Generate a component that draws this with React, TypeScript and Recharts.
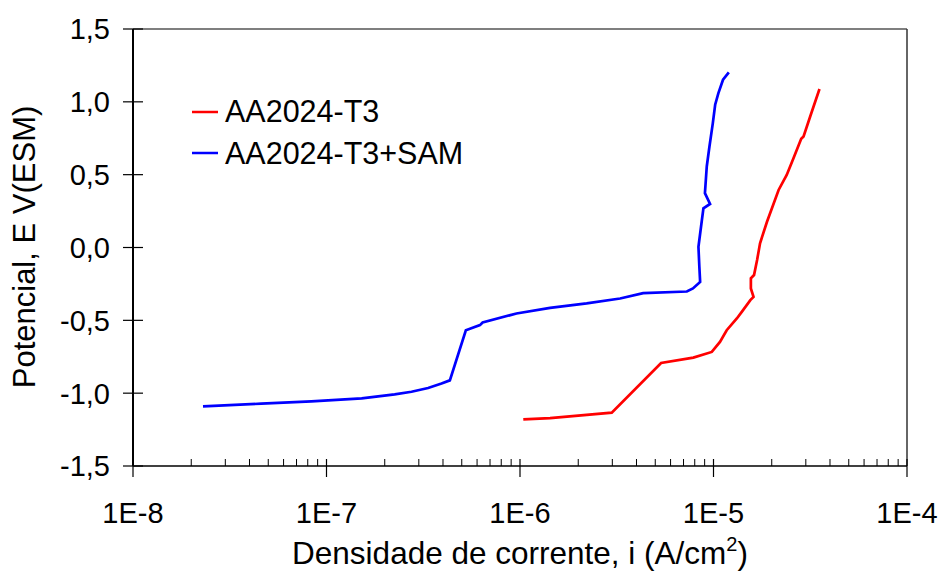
import React from 'react';
import { LineChart, Line, XAxis, YAxis, ReferenceLine, Label } from 'recharts';

const blueI = [2.3e-8, 4.6e-8, 8.35e-8, 1.52e-7, 2.25e-7, 2.75e-7, 3.35e-7, 3.93e-7, 4.34e-7, 5.25e-7, 6.21e-7, 6.41e-7, 9.59e-7, 1.43e-6, 2.21e-6, 3.29e-6, 4.33e-6, 7.28e-6, 7.83e-6, 8.53e-6, 8.45e-6, 8.36e-6, 8.71e-6, 8.87e-6, 9.6e-6, 9.03e-6, 9.23e-6, 9.53e-6, 9.92e-6, 1.02e-5, 1.06e-5, 1.12e-5, 1.2e-5];
const blueE = [-1.091, -1.072, -1.056, -1.036, -1.008, -0.99, -0.965, -0.934, -0.912, -0.568, -0.533, -0.515, -0.453, -0.414, -0.384, -0.35, -0.313, -0.302, -0.281, -0.236, -0.132, 0.005, 0.189, 0.269, 0.299, 0.373, 0.556, 0.693, 0.854, 0.98, 1.06, 1.152, 1.202];

const redI = [1.04e-6, 1.43e-6, 2.98e-6, 5.36e-6, 7.87e-6, 9.8e-6, 1.08e-5, 1.17e-5, 1.32e-5, 1.4e-5, 1.55e-5, 1.61e-5, 1.56e-5, 1.56e-5, 1.62e-5, 1.68e-5, 1.74e-5, 1.89e-5, 2.17e-5, 2.39e-5, 2.59e-5, 2.84e-5, 2.92e-5, 3.16e-5, 3.53e-5];
const redE = [-1.18, -1.171, -1.134, -0.793, -0.756, -0.717, -0.648, -0.568, -0.487, -0.442, -0.361, -0.339, -0.281, -0.212, -0.189, -0.086, 0.029, 0.177, 0.395, 0.498, 0.613, 0.746, 0.762, 0.899, 1.088];

const xMajorTicks = [1e-8, 1e-7, 1e-6, 1e-5, 1e-4];
const xMinorMultipliers = [2, 3, 4, 5, 6, 7, 8, 9];
const yTicks = [-1.5, -1.0, -0.5, 0.0, 0.5, 1.0, 1.5];
const seriesNames = ['AA2024-T3', 'AA2024-T3+SAM'];
const seriesColors = ['#FF0000', '#0000FF'];

const xTicks: number[] = [];
xMajorTicks.forEach((t, idx) => {
  xTicks.push(t);
  if (idx < xMajorTicks.length - 1) xMinorMultipliers.forEach((m) => xTicks.push(t * m));
});
xTicks.sort((a, b) => a - b);

const redData = redI.map((v, k) => ({ i: v, E: redE[k] }));
const blueData = blueI.map((v, k) => ({ i: v, E: blueE[k] }));

const FONT = '"Liberation Sans", Arial, sans-serif';

const XTick = (props: any) => {
  const { x, y, payload } = props;
  const lg = Math.log10(payload.value);
  const major = Math.abs(lg - Math.round(lg)) < 1e-6;
  if (!major) {
    return <line x1={x} x2={x} y1={y - 7} y2={y} stroke="#000" strokeWidth={1} />;
  }
  return (
    <g>
      <line x1={x} x2={x} y1={y - 7} y2={y + 11} stroke="#000" strokeWidth={1.2} />
      <text x={x} y={y + 57} textAnchor="middle" fontSize={29} fontFamily={FONT} fill="#000">
        {`1E${Math.round(lg)}`}
      </text>
    </g>
  );
};

const YTick = (props: any) => {
  const { x, y, payload } = props;
  const label = Number(payload.value).toFixed(1).replace('.', ',');
  return (
    <g>
      <line x1={x - 10} x2={x + 10} y1={y} y2={y} stroke="#000" strokeWidth={1.2} />
      <text x={x - 23} y={y} dy="0.36em" textAnchor="end" fontSize={29} fontFamily={FONT} fill="#000">
        {label}
      </text>
    </g>
  );
};

const LegendBox = () => (
  <div style={{ position: 'absolute', left: 192, top: 91, fontFamily: FONT, fontSize: 30.5, color: '#000' }}>
    {seriesNames.map((n, k) => (
      <div key={n} style={{ display: 'flex', alignItems: 'center', height: 41.6, whiteSpace: 'nowrap' }}>
        <svg width={26} height={4} style={{ marginRight: 7 }}>
          <line x1={0} x2={26} y1={2} y2={2} stroke={seriesColors[k]} strokeWidth={2.5} />
        </svg>
        <span>{n}</span>
      </div>
    ))}
  </div>
);

export default function App() {
  return (
    <div style={{ position: 'absolute', left: 0, top: 0, width: 941, height: 581, background: '#fff' }}>
      <LineChart width={941} height={581} margin={{ top: 29, right: 34, left: 0, bottom: 0 }}>
        <XAxis
          dataKey="i"
          type="number"
          scale="log"
          domain={[1e-8, 1e-4]}
          allowDataOverflow
          ticks={xTicks}
          interval={0}
          tickSize={0}
          tickMargin={0}
          tickLine={false}
          tick={<XTick />}
          height={115}
          axisLine={{ stroke: '#000', strokeWidth: 1.5 }}
        >
          <Label
            content={() => (
              <text x={520} y={564} textAnchor="middle" fontSize={31.5} fontFamily={FONT} fill="#000">
                Densidade de corrente, i (A/cm
                <tspan dy={-13} fontSize={20}>2</tspan>
                <tspan dy={13}>)</tspan>
              </text>
            )}
          />
        </XAxis>
        <YAxis
          type="number"
          domain={[-1.5, 1.5]}
          ticks={yTicks}
          interval={0}
          tickSize={0}
          tickMargin={0}
          tickLine={false}
          tick={<YTick />}
          width={133}
          axisLine={{ stroke: '#000', strokeWidth: 2 }}
        >
          <Label
            content={() => (
              <text x={35} y={247} transform="rotate(-90 35 247)" textAnchor="middle" fontSize={31} fontFamily={FONT} fill="#000">
                Potencial, E V(ESM)
              </text>
            )}
          />
        </YAxis>
        <ReferenceLine y={1.5} stroke="#000" strokeWidth={1.2} />
        <ReferenceLine x={1e-4} stroke="#333" strokeWidth={1.5} />
        <Line data={redData} dataKey="E" name={seriesNames[0]} stroke={seriesColors[0]} strokeWidth={2.7} dot={false} isAnimationActive={false} />
        <Line data={blueData} dataKey="E" name={seriesNames[1]} stroke={seriesColors[1]} strokeWidth={2.7} dot={false} isAnimationActive={false} />
      </LineChart>
      <LegendBox />
    </div>
  );
}
